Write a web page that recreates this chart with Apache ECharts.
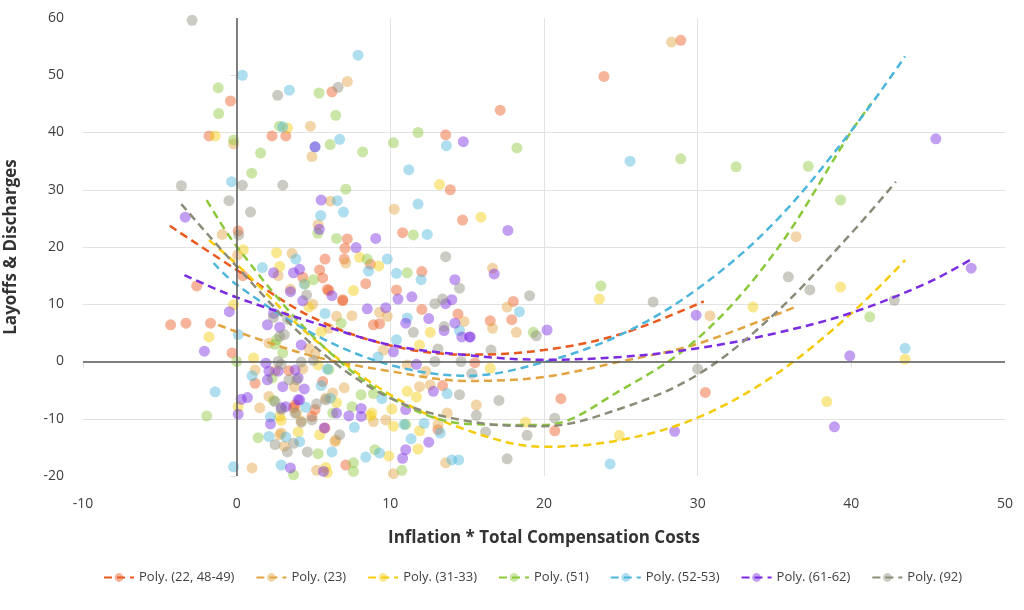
<!DOCTYPE html>
<html>
<head>
<meta charset="utf-8">
<script src="https://cdn.jsdelivr.net/npm/echarts@6.0.0/dist/echarts.min.js"></script>
<style>
  html, body { margin: 0; padding: 0; background: #fff; }
  #main { width: 1024px; height: 610px; }
</style>
</head>
<body>
<div id="main"></div>
<script>
const names = ['Poly. (22, 48-49)', 'Poly. (23)', 'Poly. (31-33)', 'Poly. (51)', 'Poly. (52-53)', 'Poly. (61-62)', 'Poly. (92)'];
const colors = ['#ea5a1f', '#e2a440', '#f5cb0a', '#8cc83c', '#4db6da', '#7b2be2', '#8b8b79'];

const xTicks = [-10, 0, 10, 20, 30, 40];
const yTicks = [-20, -10, 0, 10, 20, 30, 40, 50];

// scatter points [x, y]
const dots22 = [[-0.4,45.5],[-1.8,39.4],[2.3,39.4],[3.2,39.4],[6.2,47.1],[0.1,22.8],[7.2,21.4],[7.05,19.8],[13.6,39.6],[17.15,43.9],
  [13.9,30.0],[14.7,24.7],[10.8,22.5],[23.9,49.8],[28.9,56.1],[18.0,10.5],[16.5,7.1],[17.9,7.3],[15.5,-0.2],[30.5,-5.4],
  [21.1,-6.5],[20.7,-12.1],[7.0,17.9],[8.7,17.0],[5.75,17.9],[10.4,12.5],[12.05,9.1],[12.05,15.7],[14.4,8.3],[8.9,6.4],
  [9.3,6.6],[13.4,-4.2],[6.9,10.8],[8.4,13.6],[5.9,12.6],[5.6,14.6],[5.4,16.0],[4.3,14.7],[0.4,15.0],[-2.6,13.2],
  [-4.3,6.4],[-3.3,6.7],[-1.7,6.7],[-0.3,1.5],[1.2,-3.8],[3.7,-8.1],[5.1,-8.4],[4.9,-9.6],[5.75,-11.6],[5.6,-3.5],
  [7.1,-18.1],[3.4,-1.6],[3.8,-7.6],[13.1,-11.9],[6.0,12.4],[6.9,10.6]];
const dots23 = [[-0.2,38],[4.8,41.1],[7.2,48.9],[4.9,35.8],[6.1,28.0],[5.3,23.9],[-0.94,22.2],[10.25,26.6],[28.3,55.8],[36.4,21.8],
  [30.8,8.0],[16.65,16.3],[17.6,9.5],[16.65,5.8],[18.2,5.1],[15.6,-7.6],[7.1,17.2],[9.8,7.9],[9.3,8.6],[7.5,8.0],
  [14.8,7.0],[0.06,18.6],[3.6,18.9],[2.7,15.0],[3.5,12.6],[4.95,10.0],[6.0,5.8],[6.5,7.9],[5.1,1.3],[1.0,-18.6],
  [1.5,-8.1],[1.2,-1.5],[2.8,-12.8],[3.1,-14.8],[3.9,-9.0],[5.2,-19.0],[6.4,-14.0],[6.25,-5.5],[7.0,-4.6],[8.9,-10.5],
  [9.7,-10.2],[10.2,-19.6],[13.6,-17.7],[13.1,-11.0],[11.9,-4.4],[12.6,-4.1],[11.1,-0.6],[12.3,-1.7],[9.55,2.0],[13.7,-9.0],
  [2.1,3.2],[4.7,2.3],[3.75,-4.4],[2.1,-6.1],[5.8,-6.4],[4.3,-1.3],[2.5,-1.6],[6.45,-13.7],[2.9,-12.5],[4.2,-10.4]];
const dots31 = [[-1.4,39.4],[3.3,40.8],[13.2,30.9],[15.9,25.2],[39.3,13.0],[33.6,9.5],[23.6,10.9],[43.5,0.4],[38.4,-7.0],[24.9,-12.9],
  [18.8,-10.6],[16.5,-1.2],[8.0,18.2],[9.25,16.7],[7.6,12.4],[12.6,5.1],[4.45,13.6],[4.7,9.5],[2.6,19.0],[0.43,19.5],
  [2.8,16.6],[-1.8,4.3],[-0.2,9.9],[1.1,0.6],[0.1,-7.9],[4.0,-12.3],[5.4,-12.8],[5.8,-18.5],[6.5,-7.2],[8.8,-9.0],
  [9.9,-16.5],[10.2,-11.3],[11.8,-15.3],[10.1,-8.3],[11.1,-5.2],[11.7,-6.2],[11.9,-12.1],[11.9,2.9],[5.3,-0.6],[5.5,5.2],
  [2.8,-9.6],[2.9,-10.3],[5.9,-19.4],[8.7,-9.5]];
const dots51 = [[-1.2,47.8],[-1.17,43.3],[-0.2,38.7],[2.78,41.1],[5.36,46.9],[6.45,43.0],[6.08,37.9],[1.56,36.4],[0.98,32.9],[7.1,30.1],
  [5.28,22.4],[6.5,21.5],[8.2,36.6],[10.2,38.2],[11.8,40.0],[18.24,37.3],[11.5,22.1],[28.9,35.4],[32.5,34.0],[37.2,34.1],
  [39.3,28.2],[41.2,7.8],[23.7,13.2],[19.3,5.1],[8.5,17.9],[11.1,15.5],[5.0,14.3],[0,0],[-1.95,-9.5],[1.4,-13.3],
  [3.7,-19.8],[5.3,-16.1],[6.25,-9.0],[8.1,-5.8],[7.6,-17.7],[9.0,-15.4],[7.6,-19.2],[10.75,-19.0],[11.0,-11.0],[6.8,6.7],
  [6.0,-1.4],[2.5,3.0],[2.6,3.8],[2.3,-2.9],[2.4,-6.8],[3.0,1.5],[7.5,-7.9],[8.9,-5.6]];
const dots52 = [[0.37,50],[3.43,47.4],[3.0,41.0],[7.9,53.5],[5.1,37.5],[6.7,38.8],[-0.33,31.4],[6.55,28.1],[6.95,26.1],[5.47,25.5],
  [13.65,37.7],[11.2,33.5],[11.8,27.5],[12.4,22.2],[25.6,35.0],[43.5,2.3],[18.4,8.7],[24.3,-17.9],[9.8,17.9],[8.58,15.8],
  [10.4,15.4],[12.0,14.3],[14.5,5.4],[11.1,7.6],[13.7,-5.6],[14.0,-17.2],[14.45,-17.2],[11.35,-13.5],[13.25,-12.5],[1.67,16.4],
  [3.85,17.9],[4.4,13.5],[5.75,8.4],[0.1,4.7],[-1.4,-5.3],[-0.2,-18.4],[1.0,-2.5],[2.2,-9.7],[2.1,-13.1],[3.2,-13.2],
  [2.9,-18.1],[4.1,-14.0],[6.2,-15.8],[6.1,-6.4],[5.9,-1.3],[7.66,-11.5],[8.4,-16.7],[9.3,-16.0],[9.45,-6.5],[9.2,0.8],
  [10.9,-11.0],[12.2,-10.8],[4.5,-8.0],[5.5,-4.2],[10.4,3.8]];
const dots61 = [[5.1,37.5],[14.75,38.4],[5.5,28.2],[5.38,23.1],[-3.35,25.2],[9.05,21.5],[17.65,22.9],[45.5,38.9],[47.8,16.3],[39.9,1.0],
  [38.9,-11.4],[29.9,8.1],[16.76,15.3],[20.2,5.5],[15.2,4.3],[28.5,-12.2],[7.77,19.9],[9.7,9.4],[8.5,9.2],[14.2,14.3],
  [13.6,10.1],[14.0,10.8],[14.2,6.7],[14.65,4.3],[15.15,4.3],[13.5,5.4],[11.4,11.3],[10.5,10.9],[11.0,6.7],[12.5,7.5],
  [6.2,11.5],[4.1,16.1],[3.7,15.5],[2.4,15.5],[3.5,12.2],[4.3,10.6],[-0.48,8.7],[-2.1,1.8],[0.3,-6.6],[0.7,-6.3],
  [0.1,-9.2],[2.2,-10.9],[3.5,-18.6],[4.0,-6.7],[2.9,-8.1],[5.65,-19.2],[5.7,-11.6],[6.5,-9.0],[7.3,-9.5],[8.1,-8.2],
  [8.1,-9.6],[10.8,-16.9],[11.0,-15.4],[12.5,-14.1],[11.0,-8.4],[12.8,-5.2],[11.7,-0.5],[10.2,1.7],[2.0,6.4],[2.8,6.0],
  [4.2,2.9],[1.9,-0.3],[2.1,-1.7],[2.7,-1.7],[3.8,-1.5],[2.0,-3.2],[4.0,-2.9],[4.4,-4.8],[3.0,-4.4],[3.2,-7.9],
  [4.1,-6.7],[2.4,8.4]];
const dots92 = [[-2.9,59.6],[2.67,46.5],[6.6,47.9],[0.37,30.8],[-3.6,30.7],[-0.5,28.1],[0.9,26.1],[3.0,30.8],[0.13,22.1],[13.6,18.3],
  [14.5,12.8],[12.9,10.1],[13.4,10.9],[13.5,6.1],[11.5,5.1],[12.9,0],[14.6,0],[15.6,-9.4],[14.5,-5.8],[35.9,14.8],
  [37.3,12.5],[42.8,10.7],[27.1,10.4],[19.06,11.5],[19.5,4.5],[16.55,2.0],[15.3,-2.1],[30.0,-1.3],[17.07,-6.8],[20.7,-9.9],
  [18.9,-12.9],[17.6,-17.0],[16.2,-12.3],[13.1,2.2],[4.55,11.6],[2.4,7.7],[3.3,7.4],[2.8,4.4],[4.2,-0.1],[2.9,-0.5],
  [2.7,0],[5.0,0.2],[3.4,-3.2],[3.9,-3.2],[2.5,-7.0],[2.9,-8.4],[3.8,-9.0],[4.2,-10.6],[4.9,-10.2],[5.2,-7.4],
  [5.8,-6.7],[6.7,-12.8],[3.3,-15.8],[4.6,-15.8],[3.7,-14.3],[2.5,-14.5],[3.1,4.7]];

// trendline points, every 5 units
const trend22 = [[-4.35,23.7],[0,16],[5,7.6],[10,2.8],[15,1.2],[20,2.0],[25,4.8],[30.4,10.5]];
const trend23 = [[-1.2,6.4],[0,5.2],[5,0.9],[10,-1.7],[15,-3.4],[20,-2.7],[25,0.0],[30,3.1],[36.5,9.7]];
const trend31 = [[-1.8,21.2],[0,17.0],[5,4.0],[10,-5.8],[15,-12.0],[20,-14.9],[25,-13.7],[30,-9.8],[35,-2.4],[40,8.4],[43.5,17.7]];
const trend51 = [[-1.95,28.2],[0,20.1],[5,4.3],[10,-6.3],[15,-10.9],[20,-11.1],[25,-5.0],[30,4.0],[35,19.0],[40,40.2],[41.3,45.1]];
const trend52 = [[-1.5,17.2],[0,13.4],[5,4.8],[10,-0.6],[15,-2.5],[20,-0.1],[25,4.7],[30,12.7],[35,24.3],[40,40.3],[43.5,53.3]];
const trend61 = [[-3.4,15.1],[0,11.2],[5,6.8],[10,2.9],[15,1.1],[20,0.3],[25,0.8],[30,2.3],[35,4.9],[40,8.5],[45,13.8],[47.9,18.0]];
const trend92 = [[-3.6,27.5],[0,16.6],[5,2.8],[10,-6.4],[15,-10.4],[20,-11.3],[25,-8.2],[30,-2.3],[35,8.3],[40,22.4],[42.9,31.4]];

const dots = [dots22, dots23, dots31, dots51, dots52, dots61, dots92];
const trends = [trend22, trend23, trend31, trend51, trend52, trend61, trend92];

const myChart = echarts.init(document.querySelector('#main'));

// lines first so the legend picks up the dashed icon
const lineSeries = names.map((name, i) => ({
  name: name,
  type: 'line',
  data: trends[i],
  smooth: 0.35,
  showSymbol: false,
  symbol: 'circle',
  symbolSize: 10,
  z: 4,
  silent: true,
  lineStyle: { color: colors[i], width: 2.5, type: [8, 5] },
  itemStyle: { color: colors[i], opacity: 0.45 }
}));
const dotSeries = names.map((name, i) => ({
  name: name,
  type: 'scatter',
  data: dots[i],
  symbolSize: 11,
  z: 2,
  silent: true,
  itemStyle: { color: colors[i], opacity: 0.45 }
}));

// zero lines
lineSeries[0].markLine = {
  silent: true,
  symbol: 'none',
  animation: false,
  label: { show: false },
  lineStyle: { color: '#5a5a5a', width: 1.5, type: 'solid' },
  data: [{ xAxis: 0 }, { yAxis: 0 }]
};

const option = {
  animation: false,
  textStyle: { fontFamily: 'Open Sans' },
  grid: { left: 83, right: 19, top: 18, bottom: 134, outerBoundsMode: 'none' },
  legend: {
    top: 566,
    left: 98,
    itemWidth: 30,
    itemHeight: 11,
    itemGap: 21,
    selectedMode: false,
    textStyle: { fontSize: 13, color: '#404040' },
    data: names
  },
  xAxis: {
    type: 'value',
    min: -10,
    max: 50,
    interval: 10,
    name: 'Inflation * Total Compensation Costs',
    nameLocation: 'middle',
    nameGap: 54,
    nameTextStyle: { fontSize: 17, fontWeight: 'bold', color: '#333' },
    axisLine: { show: false },
    axisTick: { show: true, length: 6, customValues: xTicks, lineStyle: { color: '#dedede' } },
    axisLabel: { fontSize: 14, color: '#404040', margin: 21 },
    splitLine: { show: true, showMinLine: false, showMaxLine: false, lineStyle: { color: '#e3e3e3' } }
  },
  yAxis: {
    type: 'value',
    min: -20,
    max: 60,
    interval: 10,
    name: 'Layoffs & Discharges',
    nameLocation: 'middle',
    nameGap: 63,
    nameTextStyle: { fontSize: 17, fontWeight: 'bold', color: '#333' },
    axisLine: { show: false },
    axisTick: { show: true, length: 6, customValues: yTicks, lineStyle: { color: '#dedede' } },
    axisLabel: { fontSize: 14, color: '#404040', margin: 19 },
    splitLine: { show: true, showMinLine: false, showMaxLine: false, lineStyle: { color: '#e3e3e3' } }
  },
  series: lineSeries.concat(dotSeries)
};

myChart.setOption(option);
</script>
</body>
</html>
